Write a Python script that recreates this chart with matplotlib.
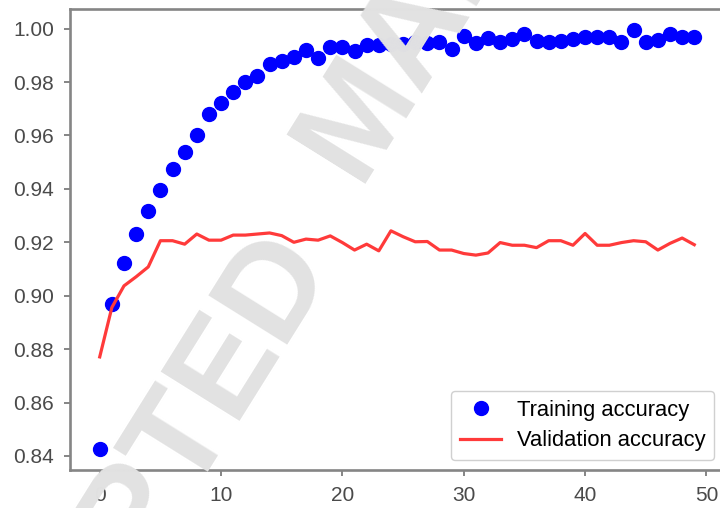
import matplotlib
matplotlib.use("Agg")
import matplotlib.pyplot as plt
import numpy as np
from matplotlib.ticker import MultipleLocator

epochs = np.arange(50)

training_acc = [
    0.8426, 0.8969, 0.9122, 0.9231, 0.9318, 0.9396, 0.9474, 0.9537, 0.9602, 0.9680,
    0.9722, 0.9761, 0.9801, 0.9824, 0.9866, 0.9877, 0.9893, 0.9920, 0.9891, 0.9930,
    0.9931, 0.9918, 0.9940, 0.9940, 0.9943, 0.9943, 0.9949, 0.9945, 0.9950, 0.9922,
    0.9974, 0.9945, 0.9965, 0.9949, 0.9961, 0.9980, 0.9952, 0.9949, 0.9952, 0.9961,
    0.9968, 0.9968, 0.9970, 0.9949, 0.9995, 0.9949, 0.9958, 0.9980, 0.9970, 0.9968,
]

validation_acc = [
    0.8771, 0.8956, 0.9037, 0.9071, 0.9108, 0.9206, 0.9206, 0.9193, 0.9231, 0.9208,
    0.9208, 0.9227, 0.9227, 0.9231, 0.9235, 0.9225, 0.9200, 0.9212, 0.9208, 0.9224,
    0.9199, 0.9171, 0.9193, 0.9168, 0.9243, 0.9221, 0.9202, 0.9203, 0.9171, 0.9171,
    0.9158, 0.9152, 0.9160, 0.9199, 0.9189, 0.9189, 0.9180, 0.9206, 0.9206, 0.9189,
    0.9233, 0.9189, 0.9189, 0.9199, 0.9206, 0.9202, 0.9171, 0.9196, 0.9216, 0.9191,
]

plt.rcParams["font.family"] = ["Liberation Sans", "DejaVu Sans"]
plt.rcParams["font.size"] = 15

W, H = 720, 508
fig = plt.figure(figsize=(W / 100, H / 100), dpi=100)
ax = fig.add_axes([70 / W, 38 / H, 654 / W, 461 / H])

ax.plot(epochs, training_acc, "o", color="blue", markersize=10, label="Training accuracy")
ax.plot(epochs, validation_acc, "-", color="#ff3a3a", linewidth=2.3, label="Validation accuracy")

ax.yaxis.set_major_locator(MultipleLocator(0.02))
ax.xaxis.set_major_locator(MultipleLocator(10))
ax.yaxis.set_major_formatter(lambda v, _: f"{v:.2f}")

for spine in ax.spines.values():
    spine.set_color("#858585")
    spine.set_linewidth(1.9)
ax.tick_params(colors="#858585", labelcolor="#4a4a4a", labelsize=15, length=4.5, width=1.4, pad=7)

ax.legend(
    loc="lower right",
    fontsize=15.8,
    frameon=True,
    edgecolor="#d0d0d0",
    framealpha=1.0,
    handlelength=1.9,
    handletextpad=0.7,
    borderpad=0.4,
    labelspacing=0.44,
    borderaxespad=0.45,
)

# diagonal watermark, two words laid along one slanted line (pixel anchors)
wm_style = dict(
    family="Liberation Sans",
    fontweight="bold",
    fontsize=97,
    color="#e2e2e2",
    rotation=58,
    va="baseline",
    rotation_mode="anchor",
    zorder=10,
)
fig.text(334 / W, 1 - 266 / H, "ACCEPTED", ha="right", **wm_style)
fig.text(357 / W, 1 - 183 / H, "MANUSCRIPT", ha="left", **wm_style)

fig.savefig("out.png", dpi=100)
